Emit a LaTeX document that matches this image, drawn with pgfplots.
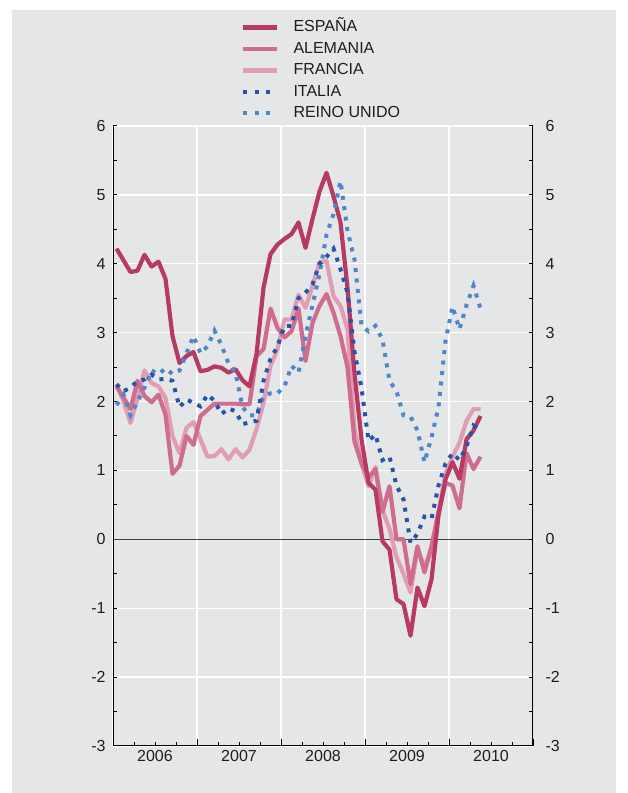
\documentclass[border=0pt]{standalone}
\usepackage{fontspec}
\setmainfont{Liberation Sans}
\usepackage{pgfplots}
\usepackage{pgfplotstable}
\pgfplotsset{compat=1.18}
\definecolor{bg}{HTML}{E5E6E8}
\definecolor{esp}{HTML}{B83A64}
\definecolor{ale}{HTML}{CF6D8F}
\definecolor{fra}{HTML}{E09DB4}
\definecolor{ita}{HTML}{2556A5}
\definecolor{ruk}{HTML}{4F87C9}
\definecolor{txt}{HTML}{1E1E1E}

\pgfplotstableread{
i esp ale fra ita ruk
0 4.22 2.22 2.25 2.25 1.95
1 4.05 2.06 2.00 2.15 2.10
2 3.88 1.89 1.69 2.20 1.80
3 3.90 2.30 2.05 2.30 2.00
4 4.13 2.08 2.45 2.32 2.20
5 3.96 1.99 2.27 2.39 2.45
6 4.03 2.10 2.22 2.32 2.40
7 3.78 1.81 2.05 2.33 2.48
8 2.95 0.95 1.50 2.30 2.40
9 2.56 1.07 1.25 1.92 2.45
10 2.66 1.50 1.62 2.03 2.70
11 2.72 1.37 1.70 1.98 2.95
12 2.44 1.79 1.45 1.93 2.70
13 2.46 1.88 1.20 2.10 2.80
14 2.51 1.97 1.21 2.01 3.03
15 2.49 1.97 1.31 1.82 2.82
16 2.42 1.97 1.16 1.90 2.55
17 2.47 1.97 1.31 1.86 2.42
18 2.31 1.96 1.19 1.67 1.92
19 2.22 1.96 1.30 1.70 1.80
20 2.69 2.66 1.60 1.72 1.80
21 3.65 2.76 1.98 2.30 2.08
22 4.14 3.35 2.52 2.62 2.12
23 4.28 3.07 2.76 2.80 2.12
24 4.36 2.93 3.19 3.10 2.22
25 4.43 3.02 3.19 3.10 2.52
26 4.60 3.35 3.55 3.50 2.42
27 4.23 2.59 3.36 3.58 2.95
28 4.65 3.14 3.68 3.70 3.40
29 5.05 3.39 4.02 4.00 3.85
30 5.32 3.56 4.04 4.10 4.42
31 4.98 3.29 3.53 4.22 4.72
32 4.60 2.95 3.39 3.92 5.20
33 3.65 2.50 3.05 3.58 4.48
34 2.40 1.42 1.60 2.72 4.06
35 1.45 1.10 1.10 2.20 3.10
36 0.82 0.90 0.77 1.43 3.02
37 0.72 1.02 1.05 1.52 3.10
38 -0.03 0.40 0.42 1.15 2.90
39 -0.15 0.77 0.15 1.20 2.30
40 -0.87 0.00 -0.26 0.78 2.15
41 -0.94 0.00 -0.50 0.58 1.80
42 -1.40 -0.65 -0.77 -0.05 1.78
43 -0.70 -0.10 -0.15 0.08 1.58
44 -0.97 -0.48 -0.39 0.33 1.12
45 -0.58 -0.10 -0.18 0.30 1.48
46 0.35 0.40 0.40 0.78 1.92
47 0.87 0.82 0.95 1.10 2.88
48 1.12 0.78 1.20 1.25 3.38
49 0.88 0.45 1.40 1.15 3.05
50 1.45 1.25 1.72 1.35 3.40
51 1.58 1.02 1.89 1.65 3.68
52 1.79 1.20 1.89 1.57 3.35
}\data

\begin{document}
\begin{tikzpicture}[x=1bp,y=1bp]
\fill[white] (0,0) rectangle (628,793);
\fill[bg] (12,0) rectangle (616,783);
\begin{axis}[
  at={(113bp,47bp)}, anchor=south west,
  scale only axis, width=420bp, height=620bp,
  xmin=-0.5, xmax=59.5, ymin=-3, ymax=6,
  axis line style={draw=none},
  font=\fontsize{16bp}{19bp}\selectfont,
  /pgf/number format/assume math mode=true,
  xtick={-0.5,11.5,23.5,35.5,47.5,59.5},
  xticklabels={2006,2007,2008,2009,2010},
  x tick label as interval,
  minor xtick={2.5,5.5,8.5,14.5,17.5,20.5,26.5,29.5,32.5,38.5,41.5,44.5,50.5,53.5,56.5},
  ytick={-3,-2,...,6},
  minor ytick={-2.5,-1.5,...,5.5},
  xtick pos=bottom, ytick pos=left,
  tick align=inside,
  xtick style={black, line width=1bp, /pgfplots/major tick length=7bp, /pgfplots/minor tick length=4bp},
  ytick style={black, line width=1bp, /pgfplots/major tick length=4bp, /pgfplots/minor tick length=4bp},
  xmajorgrids, ymajorgrids,
  major grid style={white, line width=1.3bp},
  tick label style={text=txt},
  yticklabel style={xshift=-4bp},
  xticklabel style={yshift=-1bp},
  legend style={at={(0.305,1.175)}, anchor=north west, draw=none, fill=none,
    inner sep=0pt, row sep=2bp, text=txt,
    nodes={inner sep=2bp, text height=12bp, text depth=3.5bp},
    /tikz/every odd column/.append style={column sep=12bp}},
  legend cell align=left,
  legend image code/.code={\draw[#1] (0bp,0bp) -- (34bp,0bp);},
]
\addlegendimage{esp, line width=4.2bp}
\addlegendentry{ESPAÑA}
\addlegendimage{ale, line width=4.2bp}
\addlegendentry{ALEMANIA}
\addlegendimage{fra, line width=4.2bp}
\addlegendentry{FRANCIA}
\addlegendimage{ita, line width=4bp, dash pattern=on 4bp off 7.5bp}
\addlegendentry{ITALIA}
\addlegendimage{ruk, line width=4bp, dash pattern=on 4bp off 7.5bp}
\addlegendentry{REINO UNIDO}

\draw[black!75, line width=1bp] (axis cs:-0.5,0) -- (axis cs:59.5,0);

\addplot[forget plot, fra, line width=4.2bp, line join=round] table[x=i, y=fra] {\data};
\addplot[forget plot, ale, line width=4.2bp, line join=round] table[x=i, y=ale] {\data};
\addplot[forget plot, esp, line width=4.2bp, line join=round] table[x=i, y=esp] {\data};
\addplot[forget plot, ruk, line width=4bp, dash pattern=on 4bp off 6.5bp] table[x=i, y=ruk] {\data};
\addplot[forget plot, ita, line width=4bp, dash pattern=on 4bp off 6.5bp] table[x=i, y=ita] {\data};

\draw[black, line width=1.2bp] (rel axis cs:0,1) -- (rel axis cs:0,0) -- (rel axis cs:1,0) -- (rel axis cs:1,1);
\node[anchor=south, text=txt, font=\fontsize{13bp}{15bp}\selectfont, inner sep=0pt] at ([yshift=4bp]rel axis cs:0,1) {\%};
\node[anchor=south, text=txt, font=\fontsize{13bp}{15bp}\selectfont, inner sep=0pt] at ([yshift=4bp]rel axis cs:1,1) {\%};
\end{axis}
\begin{axis}[
  at={(113bp,47bp)}, anchor=south west,
  scale only axis, width=420bp, height=620bp,
  xmin=-0.5, xmax=59.5, ymin=-3, ymax=6,
  axis line style={draw=none},
  font=\fontsize{16bp}{19bp}\selectfont,
  /pgf/number format/assume math mode=true,
  hide x axis,
  ytick={-3,-2,...,6},
  minor ytick={-2.5,-1.5,...,5.5},
  ytick pos=right, yticklabel pos=right,
  tick align=inside,
  ytick style={black, line width=1bp, /pgfplots/major tick length=4bp, /pgfplots/minor tick length=4bp},
  tick label style={text=txt},
  yticklabel style={xshift=9bp},
]
\end{axis}
\end{tikzpicture}
\end{document}
